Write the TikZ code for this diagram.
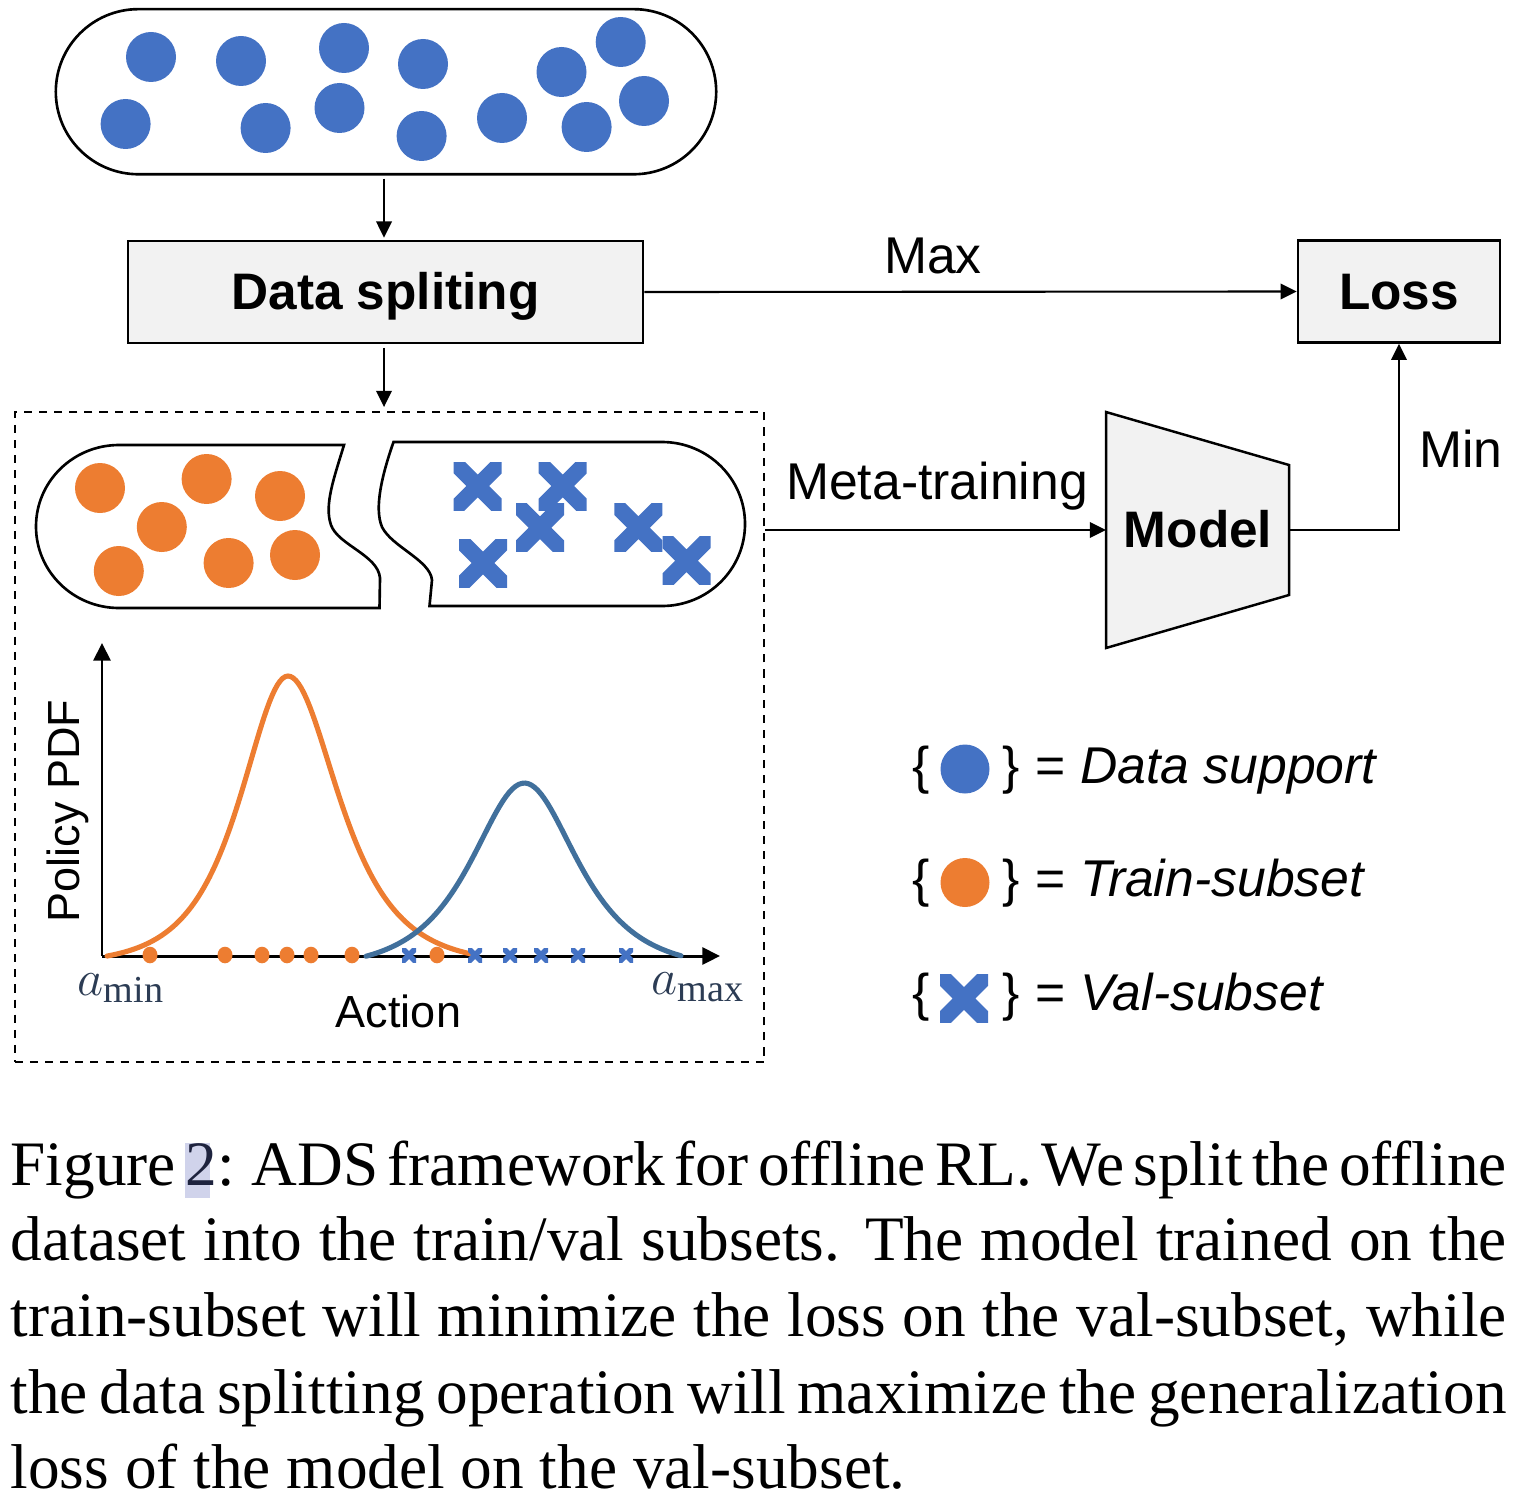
\documentclass[tikz,border=0pt]{standalone}
\usepackage{fontspec}
\setmainfont{Liberation Serif}
\newfontfamily\arial{Liberation Sans}
\usetikzlibrary{arrows.meta,shapes.misc}
\definecolor{boxgray}{HTML}{F2F2F2}
\definecolor{dotblue}{HTML}{4472C4}
\definecolor{dotorange}{HTML}{ED7D31}
\definecolor{curveblue}{RGB}{65,112,156}
\definecolor{mathcol}{RGB}{44,60,84}
\definecolor{hl}{RGB}{208,211,235}
\definecolor{numcol}{RGB}{30,35,62}
\newcommand\hlnum[1]{\rlap{\textcolor{hl}{\rule[-3.7pt]{7pt}{15.7pt}}}\textcolor{numcol}{#1}}
\tikzset{
  box/.style={draw, line width=0.7pt, fill=boxgray, inner sep=0pt},
  conn/.style={line width=0.6pt, -{Triangle[length=4.6pt,width=4.4pt]}},
  axis/.style={line width=0.85pt, -{Triangle[length=5pt,width=4.8pt]}},
  lbl/.style={font=\arial\fontsize{14.7}{17}\selectfont, inner sep=0pt, anchor=base},
  blbl/.style={font=\arial\bfseries\fontsize{14.6}{17}\selectfont, text height=10.7pt, text depth=0.7pt},
  plbl/.style={font=\arial\fontsize{12.8}{15}\selectfont, inner sep=0pt, anchor=base},
  mlbl/.style={font=\fontsize{15.5}{18}\selectfont, text=mathcol, inner sep=0pt, anchor=base west},
  caption/.style={font=\fontsize{18}{21.6}\selectfont, inner sep=0pt, anchor=base west},
  shapeline/.style={line width=0.75pt},
  bigx/.pic={\begin{scope}\clip (-24,-24) rectangle (24,24);
     \draw[line width=4.6pt, dotblue] (-30,-30)--(30,30) (-30,30)--(30,-30);\end{scope}},
  smallx/.pic={\begin{scope}\clip (-7,-7) rectangle (7,7);
     \draw[line width=1.6pt, dotblue] (-10,-10)--(10,10) (-10,10)--(10,-10);\end{scope}},
}
\begin{document}
\begin{tikzpicture}[x=0.01cm,y=-0.01cm]
\useasboundingbox (0,0) rectangle (1516,1500);

% data pool
\node[draw, shapeline, rounded rectangle, minimum width=6.6cm, minimum height=1.65cm, inner sep=0pt] (pool) at (386,91.7) {};
\foreach \p in {(151,57),(241,61),(344,48),(423,64),(561.5,72),(620.7,42),(125.6,124),(265.6,128),(339.5,108),(421.6,136),(502,118),(586.6,127),(644,101)}
  \fill[dotblue] \p circle[radius=25];

% boxes
\node[box, blbl, minimum width=5.15cm, minimum height=1.02cm] (split) at (385.5,292) {Data spliting};
\node[box, blbl, minimum width=2.02cm, minimum height=1.02cm] (loss) at (1399,291.5) {Loss};

% model trapezoid
\draw[box] (1106,412) -- (1289,465) -- (1289,595) -- (1106,648) -- cycle;
\node[blbl] (model) at (1198,530) {Model};
\coordinate (mIn) at (1106,530);
\coordinate (mOut) at (1289,530);

% dashed frame
\node[draw, line width=0.7pt, dash pattern=on 2.3pt off 2pt, minimum width=7.49cm, minimum height=6.5cm, inner sep=0pt] (frame) at (389.5,737) {};

% connectors
\draw[conn, shorten <=1.7pt, shorten >=0.6pt] (split.north -| 384,0) ++(0,-67) coordinate (pin) -- (split.north -| pin);
\draw[conn, shorten <=1pt, shorten >=1pt] (split.south -| pin) -- (frame.north -| pin);
\draw[conn] (split.east) -- (loss.west);
\draw[conn] (frame.east |- mIn) -- (mIn);
\draw[conn] (mOut) -| (loss.south);

\node[lbl] (maxl) at (933,273) {Max};
\node[lbl] (metal) at (937,499) {Meta-training};
\node[lbl] (minl) at (1461,467) {Min};

% split pieces
\draw[shapeline] (119,445) -- (344,445) .. controls (334,478) and (324,505) .. (331,525)
   .. controls (338,545) and (378,555) .. (380,578) -- (379.5,608) -- (119,608)
   arc[start angle=90, end angle=270, x radius=83, y radius=81.5];
\draw[shapeline] (393.5,442) -- (662,442) arc[start angle=-90, end angle=90, x radius=83, y radius=82]
   -- (429.5,606) -- (432,580) .. controls (430,560) and (392,547) .. (382,527)
   .. controls (374,508) and (382,475) .. cycle;
\foreach \p in {(100,488),(206.6,479),(280,496),(161.8,527),(118.8,571),(228.6,563),(295,555)}
  \fill[dotorange] \p circle[radius=25];
\foreach \p in {(477.7,486),(562.7,486),(540,527.7),(483,563),(638.4,527.7),(686.5,560.7)}
  \pic at \p {bigx};

% plot
\coordinate (org) at (102,956);
\coordinate (ytip) at (102,643);
\coordinate (xtip) at (720,956);
\draw[axis] (org) -- (ytip);
\draw[axis] (org) -- (xtip);
\draw[dotorange, line width=1.45pt, line cap=round]
  plot[domain=107:288, samples=70] (\x, {956-280*(2/(exp((\x-288)/42)+exp(-(\x-288)/42))-0.027)/0.973})
  -- plot[domain=288:472, samples=70] (\x, {956-280*(2/(exp((\x-288)/45)+exp(-(\x-288)/45))-0.027)/0.973});
\draw[curveblue, line width=1.45pt, line cap=round]
  plot[domain=366:681, samples=100] (\x, {956-173*(2/(exp((\x-524.4)/47)+exp(-(\x-524.4)/47))-0.07)/0.93});
\foreach \xx in {150,225,262,287,311,352,437}
  \fill[dotorange] (\xx,955) circle[x radius=7.5, y radius=8.3];
\foreach \xx in {409,475,510,541,578,626}
  \pic at (\xx,955) {smallx};
\node[mlbl] (amin) at (77,995) {$a_{\min}$};
\node[mlbl] (amax) at (651,994) {$a_{\max}$};
\node[plbl] (actl) at (398.5,1027) {Action};
\node[plbl, rotate=90] (pdfl) at (79,811) {Policy PDF};

% legend
\foreach \yy/\txt in {783/Data support, 896/Train-subset, 1010.5/Val-subset}{
  \node[lbl, anchor=base west] at (912,\yy) {\{};
  \node[lbl, anchor=base west] at (1002,\yy) {\}};
  \node[lbl, anchor=base west] at (1035,\yy) {= \textit{\txt}};
}
\fill[dotblue] (965,769) circle[radius=24.5];
\fill[dotorange] (965,882.5) circle[radius=24.5];
\pic at (964,998.5) {bigx};

% caption
\node[caption] (c1) at (10,1185) {\spaceskip=0.22em plus 0.2em minus 0.08em\makebox[14.95cm][s]{Figure \hlnum{2}: ADS framework for offline RL. We split the offline}};
\node[caption] (c2) at (10,1260) {\makebox[14.95cm][s]{dataset into the train/val subsets. The model trained on the}};
\node[caption] (c3) at (10,1336.5) {\makebox[14.95cm][s]{train-subset will minimize the loss on the val-subset, while}};
\node[caption] (c4) at (10,1413) {\makebox[14.95cm][s]{the data splitting operation will maximize the generalization}};
\node[caption] (c5) at (10,1488.5) {loss of the model on the val-subset.};
\end{tikzpicture}
\end{document}
